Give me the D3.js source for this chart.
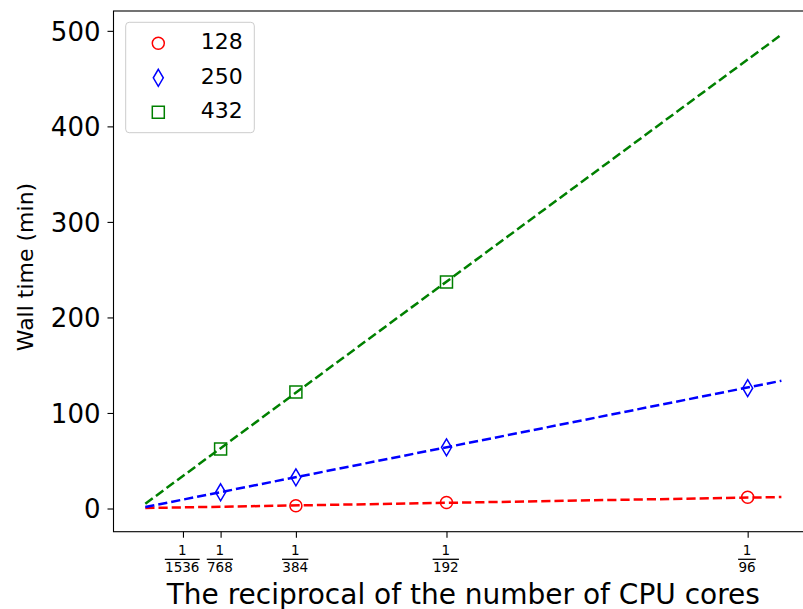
<!DOCTYPE html>
<html lang="en">
<head>
    <meta charset="UTF-8">
    <title>Wall time vs reciprocal of CPU cores</title>
    <script src="https://d3js.org/d3.v7.min.js"></script>
    <style>
        body {
            margin: 0;
            background: white;
        }
        svg {
            display: block;
            font-family: 'DejaVu Sans', sans-serif;
        }
        .domain {
            stroke: #000;
        }
    </style>
</head>
<body>
    <svg width="803" height="609"></svg>
    <script>
        // data
        const seriesNames = ['128', '250', '432'];
        const seriesColors = ['#ff0000', '#0000ff', '#008000'];
        const seriesShapes = ['circle', 'thinDiamond', 'square'];

        const cores128 = [384, 192, 96];
        const time128 = [2.9, 6.3, 11.7];
        const cores250 = [768, 384, 192, 96];
        const time250 = [17.0, 32.6, 64.0, 126.0];
        const cores432 = [768, 384, 192];
        const time432 = [62.3, 122.0, 237.0];

        // fitted lines: start and end points
        const fitX = [0, 0.011];
        const fit128 = [0.5, 12.0];
        const fit250 = [1.5, 133.7];
        const fit432 = [5.0, 496.0];

        const tickDenominators = [1536, 768, 384, 192, 96];
        const yTicks = [0, 100, 200, 300, 400, 500];

        const series = [
            { name: seriesNames[0], color: seriesColors[0], shape: seriesShapes[0], cores: cores128, time: time128, fit: fit128 },
            { name: seriesNames[1], color: seriesColors[1], shape: seriesShapes[1], cores: cores250, time: time250, fit: fit250 },
            { name: seriesNames[2], color: seriesColors[2], shape: seriesShapes[2], cores: cores432, time: time432, fit: fit432 }
        ];

        const margin = { left: 113.5, top: 11, bottom: 531.7, right: 813.2 };

        // matplotlib style 5% padding around the data
        const xPad = (fitX[1] - fitX[0]) * 0.05;
        const yMin = d3.min(series, s => d3.min(s.fit.concat(s.time)));
        const yMax = d3.max(series, s => d3.max(s.fit.concat(s.time)));
        const yPad = (yMax - yMin) * 0.05;

        const x = d3.scaleLinear()
            .domain([fitX[0] - xPad, fitX[1] + xPad])
            .range([margin.left, margin.right]);
        const y = d3.scaleLinear()
            .domain([yMin - yPad, yMax + yPad])
            .range([margin.bottom, margin.top]);

        const svg = d3.select('svg');

        // markers
        function markerPath(shape) {
            if (shape === 'circle') return d3.symbol().type(d3.symbolCircle).size(Math.PI * 36)();
            if (shape === 'square') return d3.symbol().type(d3.symbolSquare).size(144)();
            // thin diamond
            return 'M0,-8.5L5,0L0,8.5L-5,0Z';
        }

        // fit lines
        const line = d3.line()
            .x(d => x(d[0]))
            .y(d => y(d[1]));

        svg.append('g')
            .selectAll('path')
            .data(series)
            .join('path')
            .attr('d', s => line(fitX.map((v, i) => [v, s.fit[i]])))
            .attr('fill', 'none')
            .attr('stroke', s => s.color)
            .attr('stroke-width', 2.5)
            .attr('stroke-dasharray', '9.2,4');

        // data points
        series.forEach(s => {
            svg.append('g')
                .selectAll('path')
                .data(s.cores.map((c, i) => [1 / c, s.time[i]]))
                .join('path')
                .attr('d', markerPath(s.shape))
                .attr('transform', d => `translate(${x(d[0])},${y(d[1])})`)
                .attr('fill', 'none')
                .attr('stroke', s.color)
                .attr('stroke-width', 1.5);
        });

        // frame
        svg.append('rect')
            .attr('x', margin.left)
            .attr('y', margin.top)
            .attr('width', margin.right - margin.left)
            .attr('height', margin.bottom - margin.top)
            .attr('fill', 'none')
            .attr('stroke', '#000')
            .attr('stroke-width', 1.1);

        // y axis
        const yAxis = svg.append('g')
            .attr('transform', `translate(${margin.left},0)`)
            .call(d3.axisLeft(y).tickValues(yTicks).tickSize(6).tickPadding(7));
        yAxis.select('.domain').remove();
        yAxis.selectAll('.tick line').attr('stroke-width', 1.1);
        yAxis.selectAll('.tick text')
            .attr('font-size', 26)
            .attr('font-family', 'DejaVu Sans')
            .attr('fill', '#000')
            .attr('dy', '0.36em');

        // x axis with fraction labels
        const xAxis = svg.append('g')
            .attr('transform', `translate(0,${margin.bottom})`)
            .call(d3.axisBottom(x).tickValues(tickDenominators.map(d => 1 / d)).tickSize(6).tickFormat(''));
        xAxis.select('.domain').remove();
        xAxis.selectAll('.tick line').attr('stroke-width', 1.1);
        xAxis.selectAll('.tick text').remove();

        xAxis.selectAll('.tick').each(function (v) {
            const g = d3.select(this);
            const den = String(Math.round(1 / v));
            g.append('text')
                .attr('x', -1.2)
                .attr('y', 23.5)
                .attr('text-anchor', 'middle')
                .attr('font-size', 13.5)
                .attr('font-family', 'DejaVu Sans')
                .attr('fill', '#000')
                .text('1');
            const t = g.append('text')
                .attr('x', -1.2)
                .attr('y', 40.3)
                .attr('text-anchor', 'middle')
                .attr('font-size', 13.5)
                .attr('font-family', 'DejaVu Sans')
                .attr('fill', '#000')
                .text(den);
            const w = t.node().getComputedTextLength() + 0.5;
            g.append('line')
                .attr('x1', -1.2 - w / 2)
                .attr('x2', -1.2 + w / 2)
                .attr('y1', 27.6)
                .attr('y2', 27.6)
                .attr('stroke', '#000')
                .attr('stroke-width', 1.3);
        });

        // axis titles
        svg.append('text')
            .attr('x', (margin.left + margin.right) / 2)
            .attr('y', 603.5)
            .attr('text-anchor', 'middle')
            .attr('font-size', 28)
            .attr('fill', '#000')
            .text('The reciprocal of the number of CPU cores');

        svg.append('text')
            .attr('transform', 'translate(33,267) rotate(-90)')
            .attr('text-anchor', 'middle')
            .attr('font-size', 22)
            .attr('fill', '#000')
            .text('Wall time (min)');

        // legend
        const legend = svg.append('g');
        legend.append('rect')
            .attr('x', 125.7)
            .attr('y', 22.3)
            .attr('width', 128.6)
            .attr('height', 110.4)
            .attr('rx', 3.5)
            .attr('fill', '#fff')
            .attr('fill-opacity', 0.8)
            .attr('stroke', '#cccccc')
            .attr('stroke-width', 1);

        const rows = legend.selectAll('g.row')
            .data(series)
            .join('g')
            .attr('class', 'row')
            .attr('transform', (s, i) => `translate(158.3,${43.3 + i * 34.5})`);
        rows.append('path')
            .attr('d', s => markerPath(s.shape))
            .attr('fill', 'none')
            .attr('stroke', s => s.color)
            .attr('stroke-width', 1.5);
        rows.append('text')
            .attr('x', 42.5)
            .attr('y', 6)
            .attr('font-size', 22)
            .attr('fill', '#000')
            .text(s => s.name);
    </script>
</body>
</html>
